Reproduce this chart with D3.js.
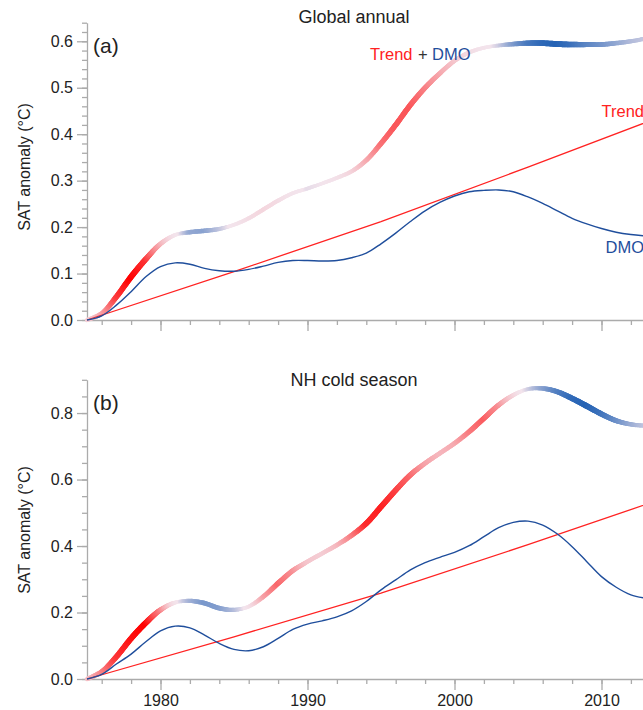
<!DOCTYPE html>
<html lang="en">
<head>
<meta charset="UTF-8">
<title>SAT anomaly - Trend + DMO</title>
<script src="https://d3js.org/d3.v7.min.js"></script>
<style>
    body { margin: 0; background: #fff; overflow: hidden; }
    svg { font-family: "Liberation Sans", Arial, Helvetica, sans-serif; }
    .axis path, .axis line { stroke: #ababab; stroke-width: 1.3; }
    .axis text { fill: #222; font-size: 16px; font-family: "Liberation Sans", Arial, sans-serif; }
</style>
</head>
<body>
<svg id="fig" width="643" height="710"></svg>
<script>
    // years shared by the yearly series
    let years = [1975, 1976, 1977, 1978, 1979, 1980, 1981, 1982, 1983, 1984,
                 1985, 1986, 1987, 1988, 1989, 1990, 1991, 1992, 1993, 1994,
                 1995, 1996, 1997, 1998, 1999, 2000, 2001, 2002, 2003, 2004,
                 2005, 2006, 2007, 2008, 2009, 2010, 2011, 2012, 2013, 2014];

    // (a) global annual
    let dmoA = [0.000, 0.009, 0.032, 0.061, 0.093, 0.115, 0.123, 0.120, 0.111, 0.106,
                0.105, 0.109, 0.116, 0.124, 0.128, 0.128, 0.127, 0.128, 0.134, 0.144,
                0.164, 0.187, 0.212, 0.235, 0.253, 0.267, 0.276, 0.279, 0.280, 0.276,
                0.265, 0.251, 0.235, 0.219, 0.207, 0.197, 0.189, 0.184, 0.181, 0.179];
    let sumA = [0.000, 0.014, 0.050, 0.093, 0.131, 0.164, 0.183, 0.189, 0.192, 0.196,
                0.205, 0.219, 0.238, 0.257, 0.273, 0.283, 0.294, 0.306, 0.320, 0.344,
                0.380, 0.420, 0.463, 0.500, 0.531, 0.558, 0.576, 0.586, 0.591, 0.594,
                0.596, 0.596, 0.594, 0.593, 0.593, 0.593, 0.596, 0.600, 0.606, 0.614];

    // trend lines are read at a few years only
    let trendYears = [1975, 1985, 1995, 2005, 2015];
    let trendA = [0.000, 0.104, 0.212, 0.329, 0.449];

    // (b) NH cold season
    let dmoB = [0.000, 0.014, 0.045, 0.075, 0.112, 0.145, 0.159, 0.154, 0.132, 0.107,
                0.089, 0.085, 0.097, 0.122, 0.149, 0.165, 0.175, 0.187, 0.205, 0.233,
                0.268, 0.298, 0.328, 0.350, 0.366, 0.381, 0.401, 0.428, 0.455, 0.471,
                0.475, 0.463, 0.436, 0.398, 0.353, 0.308, 0.276, 0.253, 0.243, 0.238];
    let sumB = [0.000, 0.022, 0.067, 0.122, 0.169, 0.208, 0.230, 0.235, 0.228, 0.213,
                0.208, 0.218, 0.248, 0.288, 0.326, 0.353, 0.378, 0.403, 0.432, 0.468,
                0.518, 0.568, 0.614, 0.649, 0.679, 0.709, 0.744, 0.784, 0.824, 0.854,
                0.872, 0.874, 0.864, 0.844, 0.821, 0.797, 0.777, 0.766, 0.762, 0.762];
    let trendB = [0.000, 0.127, 0.258, 0.404, 0.555];

    // tick labels
    let xTicks = [1980, 1990, 2000, 2010];
    let yTicksA = [0.0, 0.1, 0.2, 0.3, 0.4, 0.5, 0.6];
    let yTicksB = [0.0, 0.2, 0.4, 0.6, 0.8];

    let red = "#ff2222", blue = "#1f4e9c";

    let svg = d3.select("#fig");
    let x = d3.scaleLinear().domain([1975, 2015]).range([87, 675]);

    function panel(p) {
        let g = svg.append("g");
        let y = d3.scaleLinear().domain(p.yDomain).range([p.bottom, p.top]);

        // axes: major + minor ticks
        g.append("g").attr("class", "axis")
            .attr("transform", "translate(0," + p.bottom + ")")
            .call(d3.axisBottom(x).tickValues(xTicks).tickSize(11).tickSizeOuter(0)
                .tickPadding(5)
                .tickFormat(p.xLabels ? d3.format("d") : ""));
        g.append("g").attr("class", "axis")
            .attr("transform", "translate(0," + p.bottom + ")")
            .call(d3.axisBottom(x).ticks(20).tickSize(5).tickFormat(""))
            .select(".domain").remove();
        g.append("g").attr("class", "axis")
            .attr("transform", "translate(87,0)")
            .call(d3.axisLeft(y).tickValues(p.yTicks).tickSize(10).tickSizeOuter(0)
                .tickPadding(4).tickFormat(d3.format(".1f")));
        g.append("g").attr("class", "axis")
            .attr("transform", "translate(87,0)")
            .call(d3.axisLeft(y).ticks(p.minor).tickSize(5).tickFormat(""))
            .select(".domain").remove();

        // Trend + DMO, coloured by the slope of the DMO
        let slope = p.dmo.map(function (v, i) {
            let a = Math.max(i - 1, 0), b = Math.min(i + 1, p.dmo.length - 1);
            return (p.dmo[b] - p.dmo[a]) / (b - a);
        });
        let maxUp = d3.max(slope), maxDown = -d3.min(slope);
        let slopeAt = d3.scaleLinear().domain(years).range(slope);
        let warm = d3.interpolateRgb("#f3e4ec", "#ff0000");
        let cool = d3.interpolateRgb("#f3e4ec", "#2563b5");

        let smooth = d3.line()
            .x(function (d, i) { return x(years[i]); })
            .y(function (d) { return y(d); })
            .curve(d3.curveCatmullRom);

        let guide = g.append("path").attr("d", smooth(p.sum))
            .attr("fill", "none").attr("stroke", "none").node();
        let len = guide.getTotalLength();
        let pts = d3.range(0, len, 1.5).map(function (l) { return guide.getPointAtLength(l); });
        pts.push(guide.getPointAtLength(len));
        let segs = d3.pairs(pts);
        g.append("g").selectAll("line").data(segs).join("line")
            .attr("x1", function (d) { return d[0].x; })
            .attr("y1", function (d) { return d[0].y; })
            .attr("x2", function (d) { return d[1].x; })
            .attr("y2", function (d) { return d[1].y; })
            .attr("stroke-linecap", "round")
            .each(function (d) {
                let s = slopeAt(x.invert((d[0].x + d[1].x) / 2));
                let t = s >= 0 ? s / maxUp : s / maxDown;
                let c = t >= 0 ? warm(Math.pow(t, 2)) : cool(Math.pow(-t, 0.8));
                d3.select(this).attr("stroke", c)
                    .attr("stroke-width", 3.6 + 2.2 * Math.abs(t));
            });

        // trend
        g.append("path")
            .attr("d", d3.line()
                .x(function (d, i) { return x(trendYears[i]); })
                .y(function (d) { return y(d); })(p.trend))
            .attr("fill", "none").attr("stroke", red).attr("stroke-width", 1.3);

        // DMO
        g.append("path")
            .attr("d", d3.line()
                .x(function (d, i) { return x(years[i]); })
                .y(function (d) { return y(d); })
                .curve(d3.curveCatmullRom)(p.dmo))
            .attr("fill", "none").attr("stroke", blue).attr("stroke-width", 1.4);

        // texts
        g.append("text").attr("x", 354).attr("y", p.titleY)
            .attr("text-anchor", "middle").attr("font-size", 18).attr("fill", "#222")
            .text(p.title);
        g.append("text").attr("x", 93).attr("y", p.top + 30)
            .attr("font-size", 21).attr("fill", "#222").text(p.letter);
        g.append("text")
            .attr("transform", "translate(30," + p.labelY + ") rotate(-90)")
            .attr("text-anchor", "middle").attr("font-size", 16).attr("fill", "#222")
            .text("SAT anomaly (°C)");
        return g;
    }

    let ga = panel({
        yDomain: [0, 0.64], top: 22.7, bottom: 320, yTicks: yTicksA, minor: 32,
        dmo: dmoA, sum: sumA, trend: trendA, xLabels: false, labelY: 167,
        title: "Global annual", titleY: 23, letter: "(a)"
    });
    panel({
        yDomain: [0, 0.9], top: 379.8, bottom: 679, yTicks: yTicksB, minor: 18,
        dmo: dmoB, sum: sumB, trend: trendB, xLabels: true, labelY: 530,
        title: "NH cold season", titleY: 386, letter: "(b)"
    });

    // series labels in panel (a)
    ga.append("text").attr("x", 370).attr("y", 60).attr("font-size", 16.5)
        .attr("fill", red).text("Trend");
    ga.append("text").attr("x", 418).attr("y", 60).attr("font-size", 16.5)
        .attr("fill", "#333").text("+");
    ga.append("text").attr("x", 432).attr("y", 60).attr("font-size", 16.5)
        .attr("fill", blue).text("DMO");
    ga.append("text").attr("x", 644).attr("y", 117).attr("font-size", 16.5)
        .attr("text-anchor", "end").attr("fill", red).text("Trend");
    ga.append("text").attr("x", 644).attr("y", 253).attr("font-size", 16.5)
        .attr("text-anchor", "end").attr("fill", blue).text("DMO");
</script>
</body>
</html>
